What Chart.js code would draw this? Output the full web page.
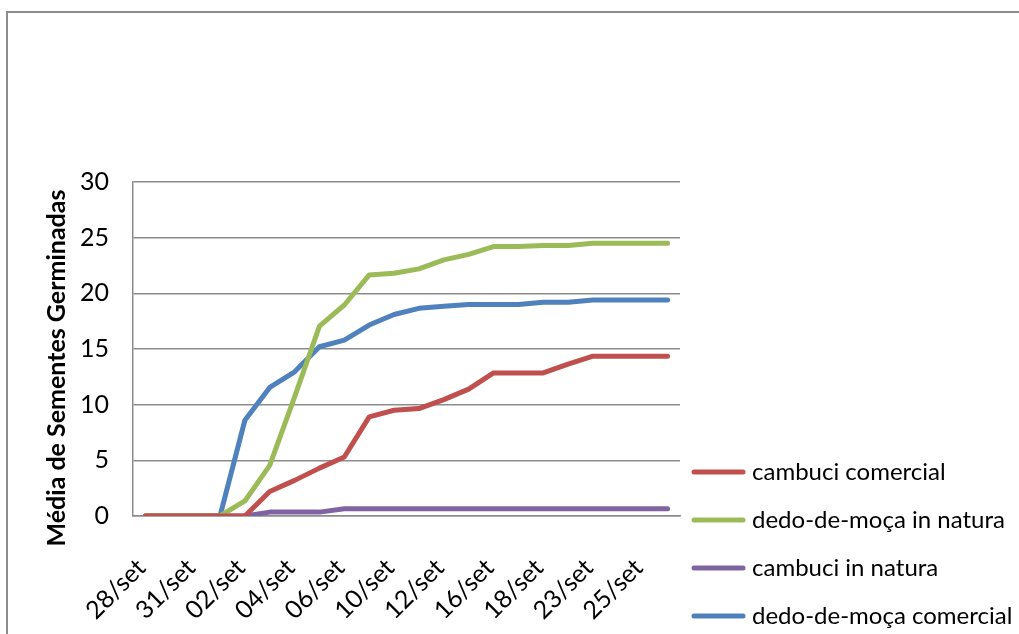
<!DOCTYPE html>
<html lang="pt">
<head>
<meta charset="utf-8">
<title>Média de Sementes Germinadas</title>
<script src="https://cdn.jsdelivr.net/npm/chart.js@4/dist/chart.umd.min.js"></script>
<style>
  html, body { margin: 0; padding: 0; background: #ffffff; overflow: hidden; }
  canvas { display: block; }
</style>
</head>
<body>
<canvas id="grafico" width="1019" height="634"></canvas>
<script>
// Datas de avaliação (rótulos intermediários não exibidos no eixo)
const categorias = ['28/set', '', '31/set', '', '02/set', '', '04/set', '', '06/set', '', '10/set',
                    '', '12/set', '', '16/set', '', '18/set', '', '23/set', '', '25/set', ''];

const cambuciComercial = [0, 0, 0, 0, 0, 2.2, 3.2, 4.3, 5.3, 8.9, 9.5,
                          9.65, 10.45, 11.4, 12.85, 12.85, 12.85, 13.65, 14.35, 14.35, 14.35, 14.35];
const dedoDeMocaInNatura = [0, 0, 0, 0, 1.35, 4.55, 10.7, 17.05, 18.95, 21.65, 21.8,
                            22.2, 23.0, 23.5, 24.2, 24.2, 24.3, 24.3, 24.5, 24.5, 24.5, 24.5];
const cambuciInNatura = [0, 0, 0, 0, 0, 0.35, 0.35, 0.35, 0.65, 0.65, 0.65,
                         0.65, 0.65, 0.65, 0.65, 0.65, 0.65, 0.65, 0.65, 0.65, 0.65, 0.65];
const dedoDeMocaComercial = [0, 0, 0, 0, 8.6, 11.55, 12.95, 15.2, 15.8, 17.15, 18.1,
                             18.65, 18.85, 19.0, 19.0, 19.0, 19.2, 19.2, 19.4, 19.4, 19.4, 19.4];

const ticksY = [0, 5, 10, 15, 20, 25, 30];
const tituloY = 'Média de Sementes Germinadas';

const FONTE = 'Lato, "Open Sans", "Liberation Sans", sans-serif';

function serie(rotulo, valores, cor) {
  return {
    label: rotulo,
    data: valores,
    borderColor: cor,
    backgroundColor: cor,
    borderWidth: 5,
    borderCapStyle: 'round',
    borderJoinStyle: 'round',
    pointRadius: 0,
    pointHoverRadius: 0,
    tension: 0,
    fill: false
  };
}

// Moldura, título do eixo vertical e legenda à direita
const extras = {
  id: 'extras',
  beforeDraw(chart) {
    const ctx = chart.ctx;
    ctx.save();
    ctx.fillStyle = '#ffffff';
    ctx.fillRect(0, 0, chart.width, chart.height);
    ctx.strokeStyle = '#8c8c8c';
    ctx.lineWidth = 2;
    ctx.strokeRect(7, 12, chart.width + 40, chart.height + 40);
    ctx.restore();
  },
  afterDraw(chart) {
    const ctx = chart.ctx;
    ctx.save();
    // título do eixo Y
    ctx.translate(57, 368);
    ctx.rotate(-Math.PI / 2);
    ctx.font = 'bold 25px ' + FONTE;
    ctx.fillStyle = '#000000';
    ctx.textAlign = 'center';
    ctx.textBaseline = 'middle';
    ctx.fillText(tituloY, 0, 0);
    ctx.restore();

    // legenda
    ctx.save();
    ctx.font = '24px ' + FONTE;
    ctx.textBaseline = 'middle';
    ctx.textAlign = 'left';
    chart.data.datasets.forEach((ds, i) => {
      const y = 472 + i * 48;
      ctx.strokeStyle = ds.borderColor;
      ctx.lineWidth = 5;
      ctx.lineCap = 'round';
      ctx.beginPath();
      ctx.moveTo(694, y);
      ctx.lineTo(743, y);
      ctx.stroke();
      ctx.fillStyle = '#000000';
      ctx.fillText(ds.label, 752, y);
    });
    ctx.restore();
  }
};

new Chart(document.getElementById('grafico'), {
  type: 'line',
  data: {
    labels: categorias,
    datasets: [
      serie('cambuci comercial', cambuciComercial, '#C0504D'),
      serie('dedo-de-moça in natura', dedoDeMocaInNatura, '#9BBB59'),
      serie('cambuci in natura', cambuciInNatura, '#8064A2'),
      serie('dedo-de-moça comercial', dedoDeMocaComercial, '#4F81BD')
    ]
  },
  options: {
    responsive: false,
    animation: false,
    devicePixelRatio: 1,
    layout: { padding: { top: 182, right: 339, bottom: 0, left: 0 } },
    plugins: {
      legend: { display: false },
      tooltip: { enabled: false },
      title: { display: false }
    },
    scales: {
      x: {
        offset: true,
        grid: { display: false, drawTicks: false },
        border: { display: true, color: '#8c8c8c', width: 1.5 },
        ticks: {
          autoSkip: false,
          maxRotation: 45,
          minRotation: 45,
          padding: 37,
          labelOffset: -4,
          color: '#000000',
          font: { family: FONTE, size: 25 }
        },
        afterFit(scale) { scale.height = 118; }
      },
      y: {
        min: 0,
        max: 30,
        afterBuildTicks(scale) { scale.ticks = ticksY.map(v => ({ value: v })); },
        grid: { color: '#8c8c8c', lineWidth: 1.5, drawTicks: false },
        border: { display: true, color: '#8c8c8c', width: 1.5 },
        ticks: {
          padding: 24,
          color: '#000000',
          font: { family: FONTE, size: 25 }
        },
        afterFit(scale) { scale.width = 133; }
      }
    }
  },
  plugins: [extras]
});
</script>
</body>
</html>
